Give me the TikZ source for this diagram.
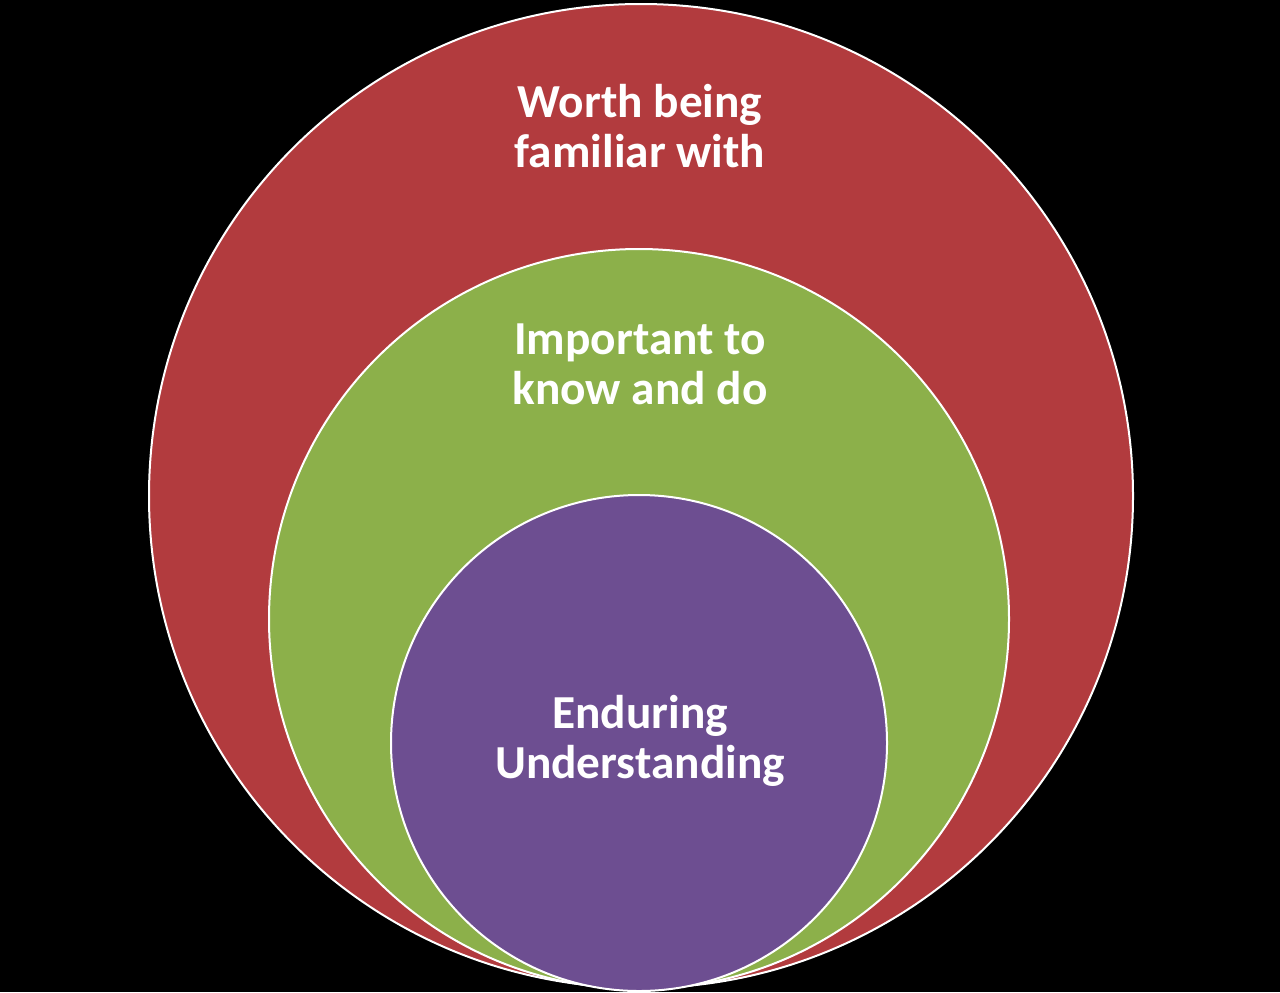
\documentclass[tikz,border=0pt]{standalone}
\usepackage{fontspec}
\setmainfont{Carlito}
\definecolor{cred}{HTML}{B23B3E}
\definecolor{cgreen}{HTML}{8CB04A}
\definecolor{cpurple}{HTML}{6D4E91}
\begin{document}
\begin{tikzpicture}[x=0.75pt,y=-0.75pt,
  ring/.style={draw=white,line width=1.5pt},
  lbl/.style={text=white,font=\bfseries\fontsize{35.5}{37.5}\selectfont,align=center}]
\fill[black] (0,0) rectangle (1280,992);
\useasboundingbox (0,0) rectangle (1280,992);
\draw[ring,fill=cred] (641,496) circle[radius=492];
\draw[ring,fill=cgreen] (639,619) circle[radius=370];
\draw[ring,fill=cpurple] (639,743) circle[radius=248];
\node[lbl] (t1) at (640,126) {Worth being\\familiar with};
\node[lbl] (t2) at (640,364) {Important to\\know and do};
\node[lbl] (t3) at (640,741) {Enduring\\Understanding};
\end{tikzpicture}
\end{document}
